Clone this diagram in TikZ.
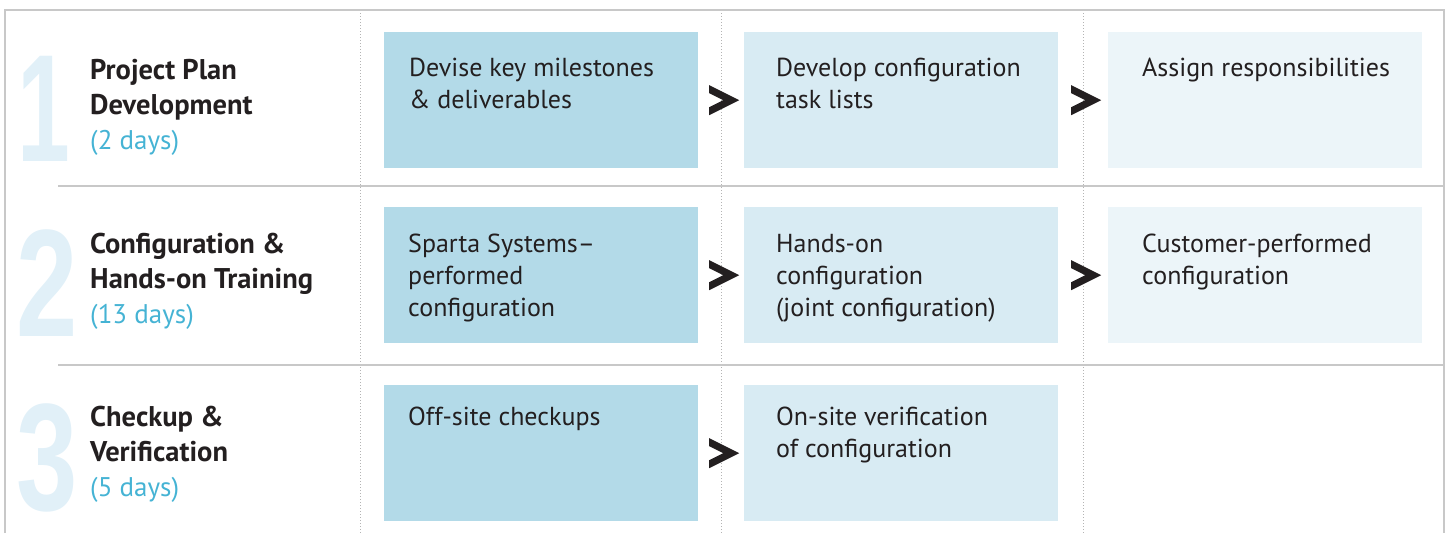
\documentclass[tikz,border=0pt]{standalone}
\usepackage{fontspec}
\usepackage{graphicx}
\setmainfont{PT Sans}
\newfontfamily\numfont{Liberation Sans}
\usetikzlibrary{calc,positioning}
\definecolor{boxA}{HTML}{B3DAE8}
\definecolor{boxB}{HTML}{D8EBF3}
\definecolor{boxC}{HTML}{ECF5F9}
\definecolor{numcol}{HTML}{E1F0F8}
\definecolor{daycol}{HTML}{45B3D4}
\definecolor{ink}{HTML}{231F20}
\definecolor{rulecol}{HTML}{C8C8C8}
\definecolor{dotcol}{HTML}{B4B4B4}
\begin{document}
\begin{tikzpicture}[x=1pt,y=-1pt,line cap=butt,line join=miter]
			\tikzset{box/.style={rectangle,inner sep=0pt,minimum width=314,minimum height=136,anchor=north west},
				boxtext/.style={anchor=base west,inner sep=0pt,align=left,text=ink,font=\fontsize{26}{32}\selectfont},
				title/.style={anchor=base west,inner sep=0pt,align=left,text=ink,font=\bfseries\fontsize{28.5}{35}\selectfont},
				bignum/.style={anchor=south,inner sep=0pt,text=numcol,font=\numfont\bfseries\fontsize{153}{153}\selectfont}
			}
			\newcommand\dayslabel[1]{\textcolor{daycol}{\mdseries\fontsize{27}{35}\selectfont#1}}
			\useasboundingbox (0,0) rectangle (1450,533);
			\foreach \x in {360,721,1083} \draw[dotcol,line width=1pt,dash pattern=on 1pt off 2pt] (\x,10)--(\x,533);
			\draw[rulecol,line width=2pt] (5,533)--(5,10)--(1444,10)--(1444,533);
			\draw[rulecol,line width=2pt] (58,186)--(1444,186) (58,365)--(1444,365);
			\node[bignum] (n1) at (44,162) {\scalebox{0.62}[1]{1}};
			\node[bignum] (n2) at (47.5,337) {\scalebox{0.72}[1]{2}};
			\node[bignum] (n3) at (47.5,512) {\scalebox{0.72}[1]{3}};
			\node[title] (t1) at (90,149) {Project Plan\\Development\\\dayslabel{(2 days)}};
			\node[title] (t2) at (90,323) {Configuration \&\\Hands-on Training\\\dayslabel{(13 days)}};
			\node[title] (t3) at (90,496) {Checkup \&\\Verification\\\dayslabel{(5 days)}};
			\node[box,fill=boxA] (a1) at (384,32) {};
			\node[box,fill=boxB] (a2) at (744,32) {};
			\node[box,fill=boxC] (a3) at (1108,32) {};
			\node[box,fill=boxA] (b1) at (384,207) {};
			\node[box,fill=boxB] (b2) at (744,207) {};
			\node[box,fill=boxC] (b3) at (1108,207) {};
			\node[box,fill=boxA] (c1) at (384,385) {};
			\node[box,fill=boxB] (c2) at (744,385) {};
			\node[boxtext] at ([shift={(25,76)}]a1.north west) {Devise key milestones\\\& deliverables};
			\node[boxtext] at ([shift={(32,76)}]a2.north west) {Develop configuration\\task lists};
			\node[boxtext] at ([shift={(34,44)}]a3.north west) {Assign responsibilities};
			\node[boxtext] at ([shift={(24,109)}]b1.north west) {Sparta Systems–\\performed\\configuration};
			\node[boxtext] at ([shift={(32,109)}]b2.north west) {Hands-on\\configuration\\(joint configuration)};
			\node[boxtext] at ([shift={(34,77)}]b3.north west) {Customer-performed\\configuration};
			\node[boxtext] at ([shift={(24,40)}]c1.north west) {Off-site checkups};
			\node[boxtext] at ([shift={(32,72)}]c2.north west) {On-site verification\\of configuration};
			\foreach \a/\b in {a1/a2,a2/a3,b1/b2,b2/b3,c1/c2}
			\fill[ink] ($(\a.east)!0.5!(\b.west)$) ++(-12,-15)--++(30,15)--++(-30,15)--++(0,-8)--++(14,-7)--++(-14,-7)--cycle;
		\end{tikzpicture}
\end{document}
